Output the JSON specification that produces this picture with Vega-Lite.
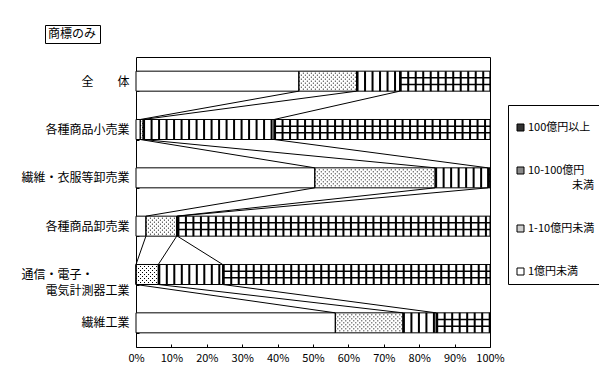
{
  "$schema": "https://vega.github.io/schema/vega-lite/v6.json",
  "width": 354,
  "height": 290,
  "autosize": {"type": "none"},
  "padding": {"left": 136, "top": 57, "right": 109, "bottom": 43},
  "background": "white",
  "config": {
    "font": "Noto Sans CJK JP",
    "view": {"stroke": "black", "strokeWidth": 1},
    "axis": {"labelColor": "black", "tickColor": "black", "grid": false, "domain": false}
  },
  "data": {
    "values": [
      {"cat": "全体", "ci": 0, "seg": "1億円未満", "order": 1, "pct": 46.0},
      {"cat": "全体", "ci": 0, "seg": "1-10億円未満", "order": 2, "pct": 16.3},
      {"cat": "全体", "ci": 0, "seg": "10-100億円未満", "order": 3, "pct": 12.2},
      {"cat": "全体", "ci": 0, "seg": "100億円以上", "order": 4, "pct": 25.5},
      {"cat": "各種商品小売業", "ci": 1, "seg": "1億円未満", "order": 1, "pct": 1.2},
      {"cat": "各種商品小売業", "ci": 1, "seg": "1-10億円未満", "order": 2, "pct": 0.8},
      {"cat": "各種商品小売業", "ci": 1, "seg": "10-100億円未満", "order": 3, "pct": 37.0},
      {"cat": "各種商品小売業", "ci": 1, "seg": "100億円以上", "order": 4, "pct": 61.0},
      {"cat": "繊維・衣服等卸売業", "ci": 2, "seg": "1億円未満", "order": 1, "pct": 50.5},
      {"cat": "繊維・衣服等卸売業", "ci": 2, "seg": "1-10億円未満", "order": 2, "pct": 34.0},
      {"cat": "繊維・衣服等卸売業", "ci": 2, "seg": "10-100億円未満", "order": 3, "pct": 14.9},
      {"cat": "繊維・衣服等卸売業", "ci": 2, "seg": "100億円以上", "order": 4, "pct": 0.6},
      {"cat": "各種商品卸売業", "ci": 3, "seg": "1億円未満", "order": 1, "pct": 2.8},
      {"cat": "各種商品卸売業", "ci": 3, "seg": "1-10億円未満", "order": 2, "pct": 8.7},
      {"cat": "各種商品卸売業", "ci": 3, "seg": "10-100億円未満", "order": 3, "pct": 0.2},
      {"cat": "各種商品卸売業", "ci": 3, "seg": "100億円以上", "order": 4, "pct": 88.3},
      {"cat": "通信・電子・電気計測器工業", "ci": 4, "seg": "1億円未満", "order": 1, "pct": 0.0},
      {"cat": "通信・電子・電気計測器工業", "ci": 4, "seg": "1-10億円未満", "order": 2, "pct": 6.3},
      {"cat": "通信・電子・電気計測器工業", "ci": 4, "seg": "10-100億円未満", "order": 3, "pct": 18.2},
      {"cat": "通信・電子・電気計測器工業", "ci": 4, "seg": "100億円以上", "order": 4, "pct": 75.5},
      {"cat": "繊維工業", "ci": 5, "seg": "1億円未満", "order": 1, "pct": 56.3},
      {"cat": "繊維工業", "ci": 5, "seg": "1-10億円未満", "order": 2, "pct": 19.1},
      {"cat": "繊維工業", "ci": 5, "seg": "10-100億円未満", "order": 3, "pct": 9.4},
      {"cat": "繊維工業", "ci": 5, "seg": "100億円以上", "order": 4, "pct": 15.2}
    ]
  },
  "transform": [
    {"stack": "pct", "groupby": ["cat"], "sort": [{"field": "order"}], "as": ["x0", "x1"]}
  ],
  "encoding": {
    "y": {
      "field": "cat", "type": "nominal",
      "scale": {"domain": ["全体", "各種商品小売業", "繊維・衣服等卸売業", "各種商品卸売業", "通信・電子・電気計測器工業", "繊維工業"], "paddingInner": 0.586, "paddingOuter": 0.293},
      "axis": {
        "title": null, "labelFontSize": 12, "labelPadding": 10, "tickBand": "extent", "tickSize": -3,
        "labelLineHeight": 16, "labelLimit": 0,
        "labelExpr": "datum.value == '全体' ? '全　　体' : datum.value == '通信・電子・電気計測器工業' ? ['通信・電子・　　　\u200b', '電気計測器工業'] : datum.value"
      }
    },
    "x": {
      "field": "x0", "type": "quantitative",
      "scale": {"domain": [0, 100], "nice": false},
      "axis": {"title": null, "values": [0, 10, 20, 30, 40, 50, 60, 70, 80, 90, 100], "labelExpr": "datum.value + '%'", "labelFontSize": 11, "tickSize": -3, "labelPadding": 8, "labelFlush": false, "labelOverlap": false}
    },
    "x2": {"field": "x1"}
  },
  "layer": [
    {
      "mark": {"type": "bar", "fill": "white"},
      "encoding": {
        "opacity": {
          "datum": "商標のみ", "type": "nominal",
          "scale": {"range": [1, 1]},
          "legend": {"title": null, "orient": "none", "legendX": -91, "legendY": -32, "strokeColor": "black", "padding": 3, "symbolSize": 1, "symbolOpacity": 0, "symbolStrokeWidth": 0, "labelOffset": -12, "labelFontSize": 12, "labelColor": "black"}
        }
      }
    },
    {
      "transform": [{"filter": "false"}],
      "mark": {"type": "bar"},
      "encoding": {
        "fill": {
          "field": "seg", "type": "nominal",
          "scale": {"domain": ["100億円以上", "10-100億円未満", "1-10億円未満", "1億円未満"], "range": ["#333333", "#8a8a8a", "#cfcfcf", "#ffffff"]},
          "legend": {
            "title": "　", "titleFontSize": 1, "titlePadding": 9, "orient": "none", "legendX": 372, "legendY": 48, "direction": "vertical",
            "strokeColor": "black", "padding": 7, "symbolType": "square", "symbolSize": 49,
            "symbolStrokeColor": "black", "symbolStrokeWidth": 1, "labelFontSize": 11, "labelColor": "black",
            "labelOffset": 2, "rowPadding": 31, "labelLimit": 0,
            "labelExpr": "datum.label == '10-100億円未満' ? ['10-100億円', '\u200b　　　　未満'] : datum.label",
            "encode": {"labels": {"update": {"lineHeight": {"value": 15.5}}}}
          }
        }
      }
    },
    {
      "transform": [{"filter": "datum.order == 2"}],
      "layer": [
        {"mark": {"type": "rule", "color": "black", "strokeWidth": 1, "strokeDash": [1, 3], "yOffset": -8}, "encoding": {}},
        {"mark": {"type": "rule", "color": "black", "strokeWidth": 1, "strokeDash": [1, 3], "yOffset": -4}, "encoding": {}},
        {"mark": {"type": "rule", "color": "black", "strokeWidth": 1, "strokeDash": [1, 3], "yOffset": 0}, "encoding": {}},
        {"mark": {"type": "rule", "color": "black", "strokeWidth": 1, "strokeDash": [1, 3], "yOffset": 4}, "encoding": {}},
        {"mark": {"type": "rule", "color": "black", "strokeWidth": 1, "strokeDash": [1, 3], "yOffset": 8}, "encoding": {}},
        {"mark": {"type": "rule", "color": "black", "strokeWidth": 1, "strokeDash": [1, 3], "strokeDashOffset": 2, "yOffset": -6}, "encoding": {}},
        {"mark": {"type": "rule", "color": "black", "strokeWidth": 1, "strokeDash": [1, 3], "strokeDashOffset": 2, "yOffset": -2}, "encoding": {}},
        {"mark": {"type": "rule", "color": "black", "strokeWidth": 1, "strokeDash": [1, 3], "strokeDashOffset": 2, "yOffset": 2}, "encoding": {}},
        {"mark": {"type": "rule", "color": "black", "strokeWidth": 1, "strokeDash": [1, 3], "strokeDashOffset": 2, "yOffset": 6}, "encoding": {}}
      ]
    },
    {
      "transform": [{"filter": "datum.order >= 3"}],
      "mark": {"type": "rule", "color": "black", "strokeWidth": 20, "strokeDash": [2, 5.5], "strokeCap": "butt"},
      "encoding": {}
    },
    {
      "transform": [{"filter": "datum.order == 4"}],
      "layer": [
        {"mark": {"type": "rule", "color": "black", "strokeWidth": 1.5, "yOffset": -3.3}, "encoding": {}},
        {"mark": {"type": "rule", "color": "black", "strokeWidth": 1.5, "yOffset": 3.3}, "encoding": {}}
      ]
    },
    {
      "mark": {"type": "bar", "filled": false, "color": "black", "strokeWidth": 1},
      "encoding": {}
    },
    {
      "transform": [
        {"filter": "datum.order <= 3"},
        {"window": [{"op": "lead", "field": "x1", "as": "nx"}, {"op": "lead", "field": "cat", "as": "ncat"}], "groupby": ["order"], "sort": [{"field": "ci"}]},
        {"filter": "datum.ncat != null"}
      ],
      "mark": {"type": "rule", "color": "black", "strokeWidth": 1, "yOffset": 10, "y2Offset": -10},
      "encoding": {
        "x": {"field": "x1", "type": "quantitative"},
        "x2": {"field": "nx"},
        "y2": {"field": "ncat"}
      }
    }
  ]
}
